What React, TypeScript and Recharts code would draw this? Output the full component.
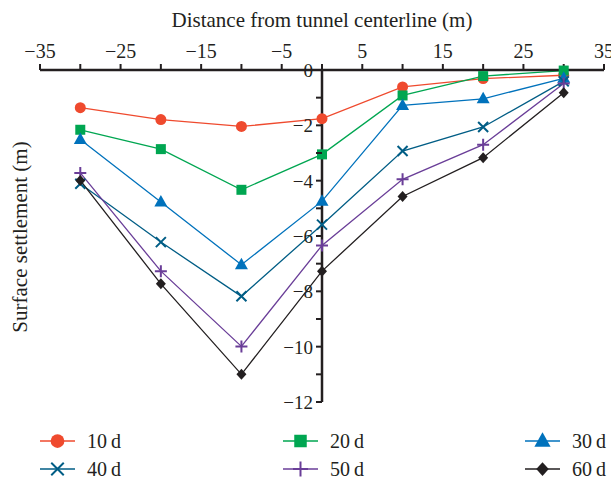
import React from "react";
import { LineChart, Line, XAxis, YAxis, ReferenceLine } from "recharts";

const DIST = [-30, -20, -10, 0, 10, 20, 30];
const S10 = [-1.36, -1.79, -2.04, -1.76, -0.61, -0.31, -0.19];
const S20 = [-2.16, -2.86, -4.33, -3.05, -0.92, -0.22, -0.02];
const S30 = [-2.51, -4.77, -7.04, -4.74, -1.28, -1.04, -0.3];
const S40 = [-4.11, -6.22, -8.18, -5.59, -2.93, -2.06, -0.41];
const S50 = [-3.72, -7.27, -9.99, -6.34, -3.95, -2.7, -0.49];
const S60 = [-3.99, -7.73, -11.0, -7.27, -4.57, -3.17, -0.82];

const X_TICKS = [-35, -30, -25, -20, -15, -10, -5, 0, 5, 10, 15, 20, 25, 30, 35];
const Y_TICKS = [0, -1, -2, -3, -4, -5, -6, -7, -8, -9, -10, -11, -12];

type Shape = "circle" | "square" | "triangle" | "cross" | "plus" | "diamond";

const SERIES: { key: string; name: string; color: string; shape: Shape; values: number[] }[] = [
  { key: "s10", name: "10\u2009d", color: "#ef4a2e", shape: "circle", values: S10 },
  { key: "s20", name: "20\u2009d", color: "#00a651", shape: "square", values: S20 },
  { key: "s30", name: "30\u2009d", color: "#0072bc", shape: "triangle", values: S30 },
  { key: "s40", name: "40\u2009d", color: "#005d85", shape: "cross", values: S40 },
  { key: "s50", name: "50\u2009d", color: "#6a3e98", shape: "plus", values: S50 },
  { key: "s60", name: "60\u2009d", color: "#231f20", shape: "diamond", values: S60 },
];

const rows = DIST.map((d, i) => {
  const r: Record<string, number> = { d };
  SERIES.forEach((s) => { r[s.key] = s.values[i]; });
  return r;
});

const W = 611;
const H = 480;
const M = { top: 0, right: 7, bottom: 78, left: 39 };
const Y_W = 1;
const X0 = M.left + Y_W + (W - M.left - Y_W - M.right) / 2;
const FONT = "'Liberation Serif', 'DejaVu Serif', serif";
const INK = "#231f20";

const minus = (v: number) => (v < 0 ? "\u2212" + Math.abs(v) : String(v));

function Marker({ shape, cx, cy, color, big }: { shape: Shape; cx: number; cy: number; color: string; big?: boolean }) {
  const k = big ? 1.25 : 1;
  if (shape === "circle") return <circle cx={cx} cy={cy} r={5.5 * k} fill={color} />;
  if (shape === "square") return <rect x={cx - 5 * k} y={cy - 5 * k} width={10 * k} height={10 * k} fill={color} />;
  if (shape === "triangle")
    return <path d={`M${cx},${cy - 7 * k} L${cx + 6.5 * k},${cy + 4.5 * k} L${cx - 6.5 * k},${cy + 4.5 * k} Z`} fill={color} />;
  if (shape === "cross")
    return (
      <path d={`M${cx - 5 * k},${cy - 5 * k} L${cx + 5 * k},${cy + 5 * k} M${cx + 5 * k},${cy - 5 * k} L${cx - 5 * k},${cy + 5 * k}`}
        stroke={color} strokeWidth={2} />
    );
  if (shape === "plus")
    return (
      <path d={`M${cx - 6 * k},${cy} L${cx + 6 * k},${cy} M${cx},${cy - 6 * k} L${cx},${cy + 6 * k}`}
        stroke={color} strokeWidth={2} />
    );
  return <path d={`M${cx},${cy - 5.5 * k} L${cx + 5 * k},${cy} L${cx},${cy + 5.5 * k} L${cx - 5 * k},${cy} Z`} fill={color} />;
}

function YTick(props: any) {
  const { y, payload } = props;
  const v = payload.value as number;
  return (
    <g>
      <line x1={X0 - 6} x2={X0} y1={y} y2={y} stroke={INK} strokeWidth={2} />
      {v % 2 === 0 && (
        <text x={X0 - 9} y={y} dy="0.36em" textAnchor="end" fontFamily={FONT} fontSize={19} fill={INK}>
          {minus(v)}
        </text>
      )}
    </g>
  );
}

function LegendItem({ s }: { s: (typeof SERIES)[number] }) {
  return (
    <div style={{ display: "flex", alignItems: "center", height: 28 }}>
      <svg width={38} height={18} style={{ marginRight: 10 }}>
        <line x1={1} x2={36} y1={9} y2={9} stroke={s.color} strokeWidth={1.5} />
        <Marker shape={s.shape} cx={18.5} cy={9} color={s.color} big />
      </svg>
      <span style={{ fontFamily: FONT, fontSize: 20, color: INK }}>{s.name}</span>
    </div>
  );
}

export default function App() {
  return (
    <div style={{ position: "absolute", left: 0, top: 0, width: W, height: H, background: "#fff" }}>
      <LineChart width={W} height={H} data={rows} margin={M}>
        <XAxis
          dataKey="d"
          type="number"
          orientation="top"
          domain={[-35, 35]}
          ticks={X_TICKS}
          height={70}
          tickSize={6}
          tickMargin={6}
          axisLine={{ stroke: INK, strokeWidth: 2.5 }}
          tickLine={{ stroke: INK, strokeWidth: 2 }}
          tick={{ fill: INK, fontSize: 20, fontFamily: FONT }}
          tickFormatter={(v: number) => (Math.abs(v / 5) % 2 === 1 ? minus(v) : "")}
          interval={0}
          label={{
            content: () => (
              <text x={X0} y={27} textAnchor="middle" fontFamily={FONT} fontSize={21} fill={INK}>
                Distance from tunnel centerline (m)
              </text>
            ),
          }}
        />
        <YAxis
          type="number"
          domain={[-12, 0]}
          ticks={Y_TICKS}
          width={Y_W}
          interval={0}
          axisLine={false}
          tickLine={false}
          tick={(p: any) => <YTick key={`yt-${p.index}`} {...p} />}
          label={{
            content: () => (
              <text x={27} y={237} textAnchor="middle" transform="rotate(-90 27 237)"
                fontFamily={FONT} fontSize={21} fill={INK}>
                Surface settlement (m)
              </text>
            ),
          }}
        />
        <ReferenceLine x={0} stroke={INK} strokeWidth={2.5} />
        {SERIES.map((s) => (
          <Line
            key={s.key}
            dataKey={s.key}
            name={s.name}
            stroke={s.color}
            strokeWidth={1.3}
            isAnimationActive={false}
            dot={(p: any) => <Marker key={`${s.key}-${p.index}`} shape={s.shape} cx={p.cx} cy={p.cy} color={s.color} />}
            activeDot={false}
          />
        ))}
      </LineChart>
      <div style={{ position: "absolute", left: 39, top: 427, width: 572, display: "grid", gridTemplateColumns: "243px 242px 87px" }}>
        {SERIES.map((s) => <LegendItem key={s.key} s={s} />)}
      </div>
    </div>
  );
}
